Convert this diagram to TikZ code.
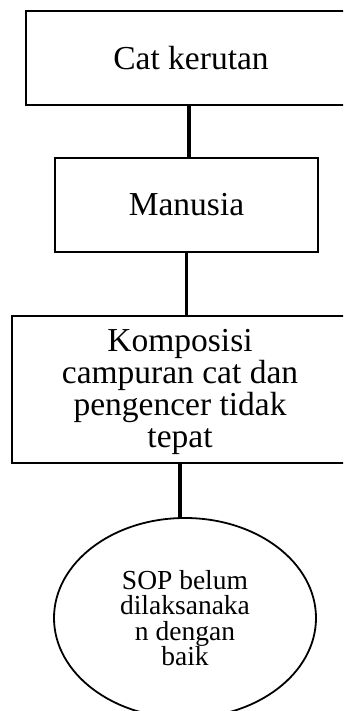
\documentclass[tikz,border=0pt]{standalone}
\usepackage{fontspec}
\setmainfont{Liberation Serif}
\usetikzlibrary{shapes.geometric}
\begin{document}
\begin{tikzpicture}[x=1pt,y=-1pt,
  box/.style={draw,line width=2pt,rectangle,inner sep=0pt,align=center,
    font=\fontsize{33.5}{32}\selectfont},
  oval/.style={draw,line width=1.8pt,ellipse,inner sep=0pt},
  caption/.style={align=center,inner sep=0pt},
  link/.style={line width=3.5pt}]
\useasboundingbox (0,0) rectangle (343,711);
\clip (0,0) rectangle (343,711);
% three boxes, the outer two running past the right margin
\node[box,minimum width=330pt,minimum height=94pt] (b1) at (191,58) {Cat kerutan};
\node[box,minimum width=263pt,minimum height=94pt] (b2) at (186.5,205) {Manusia};
\node[box,minimum width=336pt,minimum height=147pt] (b3) at (180,389.5) {};
\node[caption,font=\fontsize{33.5}{32}\selectfont]
  (t3) at (180,392) {Komposisi\\campuran cat dan\\pengencer tidak\\tepat};
% ellipse cut by the bottom margin
\node[oval,minimum width=262pt,minimum height=200pt] (e) at (185,618) {};
\node[caption,font=\fontsize{27.5}{25.5}\selectfont]
  (te) at (185,618) {SOP belum\\dilaksanaka\\n dengan\\baik};
% connectors
\draw[link] ([xshift=-2pt]b1.south) -- ([xshift=-2pt]b1.south |- b2.north);
\draw[link] (b2.south) -- (b2.south |- b3.north);
\draw[link] (b3.south) -- (b3.south |- e.north);
\end{tikzpicture}
\end{document}
